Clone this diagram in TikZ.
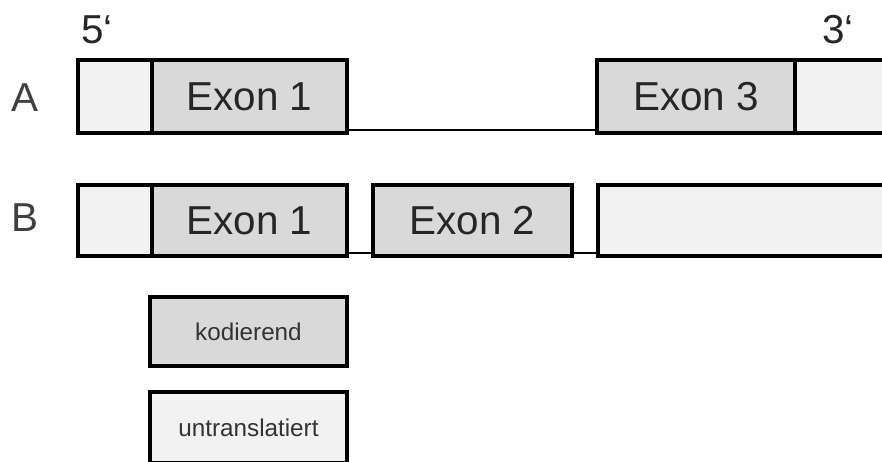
\documentclass[tikz,border=0pt]{standalone}
\usepackage{fontspec}
\setmainfont{Liberation Sans}
\usetikzlibrary{positioning}

\definecolor{codegray}{HTML}{D9D9D9}
\definecolor{utrgray}{HTML}{F2F2F2}

\begin{document}
\begin{tikzpicture}[
    x=0.02cm, y=-0.02cm,
    box/.style={rectangle, draw=black, line width=2.3pt, anchor=north west, inner sep=0pt, outer sep=0pt},
    exon/.style={box, fill=codegray, font=\fontsize{23}{23}\selectfont, text=black!85},
    utr/.style={box, fill=utrgray},
    intron/.style={line width=1.1pt},
    rowlabel/.style={font=\fontsize{23}{23}\selectfont, text=black!75},
    endlabel/.style={font=\fontsize{23}{23}\selectfont, text=black!85},
    legend/.style={box, minimum width=3.94cm, minimum height=1.38cm, font=\fontsize{13.8}{14}\selectfont, text=black!80},
]
\useasboundingbox (0,0) rectangle (882,461);
\clip (0,0) rectangle (882,461);

% strand ends
\node[endlabel] (five) at (97,30) {5‘};
\node[endlabel] (three) at (838,30) {3‘};

% row labels
\node[rowlabel] (labA) at (25,98) {A};
\node[rowlabel] (labB) at (25,218) {B};

% transcript A
\node[utr, minimum width=1.48cm, minimum height=1.46cm] (utr5A) at (78,60) {};
\node[exon, minimum width=3.9cm, minimum height=1.46cm] (ex1A) at (152,60) {Exon 1};
\node[exon, minimum width=3.96cm, minimum height=1.46cm] (ex3A) at (597,60) {Exon 3};
\node[utr, minimum width=2.4cm, minimum height=1.46cm] (utr3A) at (795,60) {};
\draw[intron] ([yshift=1.5pt]ex1A.south east) -- ([yshift=1.5pt]ex3A.south west);

% transcript B
\node[utr, minimum width=1.48cm, minimum height=1.42cm] (utr5B) at (78,185) {};
\node[exon, minimum width=3.9cm, minimum height=1.42cm] (ex1B) at (152,185) {Exon 1};
\node[exon, minimum width=3.98cm, minimum height=1.42cm] (ex2B) at (373,185) {Exon 2};
\node[utr, minimum width=6.2cm, minimum height=1.42cm] (utr3B) at (598,185) {};
\draw[intron] ([yshift=1.5pt]ex1B.south east) -- ([yshift=1.5pt]ex2B.south west);
\draw[intron] ([yshift=1.5pt]ex2B.south east) -- ([yshift=1.5pt]utr3B.south west);

% legend
\node[legend, fill=codegray] (legcod) at (150,297) {kodierend};
\node[legend, fill=utrgray, minimum height=1.42cm] (legutr) at (150,392) {untranslatiert};

\end{tikzpicture}
\end{document}
